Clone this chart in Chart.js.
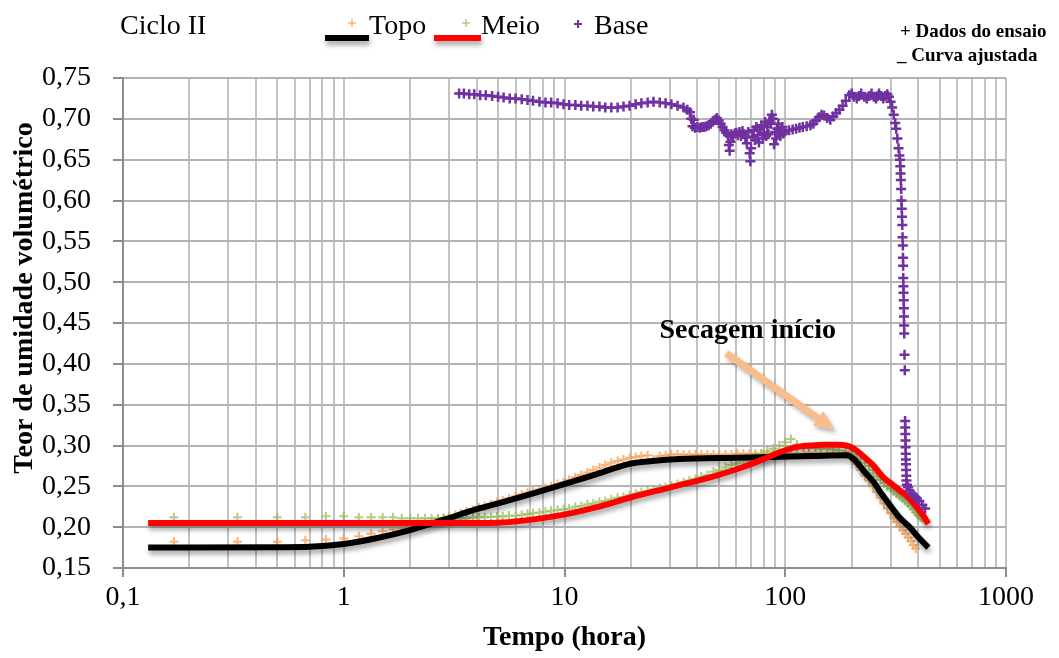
<!DOCTYPE html>
<html>
<head>
<meta charset="utf-8">
<script src="https://cdn.jsdelivr.net/npm/chart.js@4.4.1/dist/chart.umd.min.js"></script>
<style>
  html, body { margin: 0; padding: 0; background: #ffffff; }
  #wrap { width: 1059px; height: 658px; }
</style>
</head>
<body>
<div id="wrap"><canvas id="chart" width="1059" height="658"></canvas></div>
<script>
// ---- Ciclo II : volumetric moisture content vs. time ----

// Topo – measured points (time in hours, moisture content)
const topoTime = [0.17,0.33,0.5,0.67,0.83,1.0,1.17,1.33,1.5,1.67,1.83,2.0,2.17,2.33,2.5,2.67,2.83,
  3.0,3.2,3.4,3.6,3.85,4.1,4.35,4.65,4.95,5.25,5.6,6.0,6.4,6.8,7.2,7.7,8.2,8.7,9.3,9.9,10.5,11.2,11.9,12.7,
  13.5,14.4,15.3,16.3,17.4,18.5,19.7,21,22.3,23.8,25.3,27,28.7,30.5,32.5,34.6,36.8,39.2,41.7,44.4,47.3,50.3,
  53.6,57,60.7,64.6,68.8,73.2,78,83,88.3,94,100,106,113,121,128,137,145,155,165,175,187,199,
  210,220,230,240,250,260,270,280,290,300,310,320,330,340,350,360,370,380,390];
const topoTheta = [0.182,0.182,0.182,0.184,0.185,0.186,0.189,0.192,0.195,0.197,0.199,0.201,0.203,0.205,0.207,0.209,0.211,
  0.213,0.215,0.217,0.219,0.221,0.224,0.226,0.228,0.231,0.233,0.235,0.238,0.240,0.242,0.244,0.246,0.248,0.250,0.253,0.255,0.258,0.261,0.264,0.267,
  0.270,0.273,0.276,0.279,0.281,0.283,0.285,0.286,0.287,0.288,0.283,0.287,0.288,0.289,0.289,0.289,0.289,0.289,0.289,0.289,0.289,0.289,
  0.289,0.289,0.290,0.290,0.290,0.290,0.290,0.290,0.290,0.290,0.290,0.290,0.290,0.290,0.291,0.291,0.291,0.291,0.291,0.290,0.289,0.285,
  0.277,0.270,0.263,0.257,0.250,0.243,0.236,0.229,0.223,0.217,0.211,0.206,0.201,0.196,0.192,0.187,0.183,0.178,0.174];

// Meio – measured points
const meioTime = [0.17,0.33,0.5,0.67,0.83,1.0,1.17,1.33,1.5,1.67,1.83,2.0,2.17,2.33,2.5,2.67,2.83,
  3.0,3.2,3.4,3.6,3.85,4.1,4.35,4.65,4.95,5.25,5.6,6.0,6.4,6.8,7.2,7.7,8.2,8.7,9.3,9.9,10.5,11.2,11.9,12.7,
  13.5,14.4,15.3,16.3,17.4,18.5,19.7,21,22.3,23.8,25.3,27,28.7,30.5,32.5,34.6,36.8,39.2,41.7,44.4,47.3,50.3,
  53.6,57,60.7,64.6,68.8,73.2,78,83,88.3,94,100,106,113,121,128,137,145,155,165,175,187,199,
  210,220,230,240,250,260,270,280,290,300,310,320,330,340,350,360,370,380,390,400,410,420,430];
const meioTheta = [0.212,0.212,0.212,0.212,0.2135,0.2135,0.212,0.212,0.212,0.212,0.211,0.211,0.211,0.211,0.211,0.211,0.211,
  0.211,0.211,0.211,0.211,0.2115,0.212,0.212,0.2125,0.213,0.213,0.214,0.214,0.215,0.216,0.217,0.218,0.219,0.220,0.221,0.222,0.223,0.225,0.226,0.228,
  0.229,0.231,0.232,0.234,0.236,0.237,0.239,0.241,0.243,0.244,0.246,0.248,0.249,0.251,0.253,0.255,0.257,0.259,0.262,0.264,0.268,0.270,
  0.273,0.276,0.278,0.281,0.284,0.287,0.290,0.293,0.296,0.300,0.304,0.308,0.301,0.298,0.297,0.297,0.296,0.296,0.295,0.294,0.292,0.289,
  0.284,0.279,0.275,0.270,0.266,0.262,0.258,0.254,0.250,0.247,0.244,0.241,0.238,0.235,0.232,0.229,0.226,0.222,0.218,0.215,0.212,0.210,0.208];

// Base – measured points
const baseTime = [3.33,3.5,3.7,3.9,4.15,4.4,4.7,5.0,5.3,5.65,6.0,6.4,6.8,7.2,7.7,8.2,8.7,9.3,9.9,10.5,11.2,11.9,12.7,
  13.5,14.4,15.3,16.3,17.4,18.5,19.7,21,22.3,23.8,25.3,27,28.7,30.5,32.5,34.6,36,37,37.5,
  38,38.5,39,40,41,42,43,44,45,46,47,48,49,50,51,52,53,54,55,55.5,56,56.5,57,58,59,60,61,62,63,64,65,66,67,68,69,69.5,
  70,71,72,73,74,75,76,77,78,79,80,81,82,83,84,85,86,87,88,89,90,91,92,93,94,95,96,97,98,
  100,104,108,112,116,120,125,130,134,138,142,146,150,155,160,165,170,176,182,188,195,
  200,205,211,216,221,228,234,240,246,252,258,262,266,272,278,284,290,295,300,305,310,315,318,322,326,329,
  331,332,333,334,335,336,337,338,339,340,341,341.5,342,342.5,343,343.5,344,344.5,345,345.5,346,347,348,
  349,349.5,350,350.5,351,351.5,352,352.5,353,353.5,354,356,360,366,375,385,395,405,418,430];
const baseTheta = [0.731,0.731,0.730,0.730,0.729,0.729,0.728,0.727,0.726,0.725,0.725,0.724,0.723,0.722,0.721,0.720,0.720,0.719,0.718,0.717,0.717,0.716,0.716,
  0.715,0.715,0.714,0.714,0.714,0.715,0.716,0.718,0.719,0.720,0.721,0.720,0.719,0.718,0.716,0.714,0.711,0.708,0.700,
  0.691,0.699,0.689,0.690,0.689,0.690,0.690,0.691,0.692,0.694,0.697,0.699,0.701,0.698,0.694,0.690,0.686,0.683,0.680,0.668,0.661,0.672,0.681,0.679,0.682,0.683,0.680,0.684,0.679,0.685,0.681,0.677,0.670,0.684,0.658,0.648,
  0.664,0.678,0.686,0.674,0.690,0.680,0.671,0.687,0.692,0.676,0.683,0.696,0.679,0.690,0.681,0.698,0.694,0.705,0.700,0.669,0.684,0.676,0.688,0.694,0.682,0.679,0.686,0.690,0.682,
  0.685,0.686,0.687,0.688,0.689,0.690,0.691,0.692,0.694,0.698,0.702,0.705,0.704,0.701,0.699,0.703,0.707,0.711,0.716,0.722,0.729,
  0.731,0.727,0.725,0.728,0.731,0.727,0.725,0.728,0.731,0.727,0.725,0.728,0.731,0.728,0.725,0.728,0.730,0.727,0.721,0.714,0.705,0.695,0.688,0.676,0.664,0.655,
  0.650,0.642,0.633,0.625,0.614,0.600,0.590,0.580,0.570,0.555,0.545,0.530,0.520,0.505,0.495,0.487,0.478,0.468,0.458,0.447,0.437,0.411,0.392,
  0.330,0.322,0.314,0.306,0.298,0.290,0.283,0.277,0.270,0.263,0.257,0.252,0.249,0.245,0.241,0.238,0.235,0.232,0.227,0.223];

// Fitted curve – Topo
const topoFitTime  = [0.13,0.5,0.7,1.0,1.4,2.0,2.8,4.0,5.65,9.8,14,19.7,25,33,60,133,190,205,230,250,276,300,326,366,400,445];
const topoFitTheta = [0.175,0.1755,0.176,0.1795,0.1865,0.1965,0.2085,0.222,0.233,0.252,0.265,0.2775,0.281,0.2835,0.285,0.287,0.288,0.283,0.267,0.256,0.239,0.226,0.213,0.200,0.188,0.175];

// Fitted curve – Meio
const meioFitTime  = [0.13,1,3,5,6.5,9.8,14,19.7,30,47,65,79,95,112,130,150,175,195,210,225,250,276,300,330,360,393,420,445];
const meioFitTheta = [0.205,0.205,0.205,0.2055,0.208,0.215,0.2245,0.236,0.2485,0.262,0.274,0.283,0.292,0.298,0.300,0.301,0.301,0.299,0.294,0.287,0.276,0.262,0.254,0.245,0.237,0.225,0.215,0.204];

// Axis ticks
const xGridTicks  = [0.1,0.2,0.3,0.4,0.5,0.6,0.7,0.8,0.9,1,2,3,4,5,6,7,8,9,10,20,30,40,50,60,70,80,90,100,200,300,400,500,600,700,800,900,1000];
const xMajorTicks = [0.1,1,10,100,1000];
const xTickLabels = ['0,1','1','10','100','1000'];
const yTicks      = [0.15,0.20,0.25,0.30,0.35,0.40,0.45,0.50,0.55,0.60,0.65,0.70,0.75];
const yTickLabels = ['0,15','0,20','0,25','0,30','0,35','0,40','0,45','0,50','0,55','0,60','0,65','0,70','0,75'];

// "Secagem início" annotation: arrow from/to and label anchor, in (hora, teor)
const arrowFrom  = [54, 0.413];
const arrowTo    = [167, 0.319];
const noteAnchor = [67.6, 0.432];

const SERIF = "'Liberation Serif', 'Times New Roman', serif";
const C_TOPO = 'rgba(245,150,70,0.72)';
const C_MEIO = 'rgba(148,184,80,0.72)';
const C_BASE = '#7030a0';
const C_ARROW = '#f9bd8c';

const toPoints = (xs, ys) => xs.map((t, i) => ({ x: t, y: ys[i] }));
const isMajor = v => xMajorTicks.some(m => Math.abs(m - v) < 1e-9);
const majorLabel = v => xTickLabels[xMajorTicks.findIndex(m => Math.abs(m - v) < 1e-9)];

// drop shadow behind the fitted curves
const curveShadow = {
  id: 'curveShadow',
  beforeDatasetDraw(chart, args) {
    if (!chart.data.datasets[args.index].shadow) return;
    const c = chart.ctx;
    c.save();
    c.shadowColor = 'rgba(0,0,0,0.35)';
    c.shadowBlur = 5;
    c.shadowOffsetX = 1;
    c.shadowOffsetY = 4;
  },
  afterDatasetDraw(chart, args) {
    if (chart.data.datasets[args.index].shadow) chart.ctx.restore();
  }
};

function drawCross(ctx, cx, cy, r, color, w) {
  ctx.save();
  ctx.strokeStyle = color;
  ctx.lineWidth = w;
  ctx.beginPath();
  ctx.moveTo(cx - r, cy); ctx.lineTo(cx + r, cy);
  ctx.moveTo(cx, cy - r); ctx.lineTo(cx, cy + r);
  ctx.stroke();
  ctx.restore();
}

function drawShadowLine(ctx, x0, x1, yy, color) {
  ctx.save();
  ctx.shadowColor = 'rgba(0,0,0,0.35)';
  ctx.shadowBlur = 5;
  ctx.shadowOffsetX = 1;
  ctx.shadowOffsetY = 4;
  ctx.strokeStyle = color;
  ctx.lineWidth = 6;
  ctx.beginPath();
  ctx.moveTo(x0, yy); ctx.lineTo(x1, yy);
  ctx.stroke();
  ctx.restore();
}

// annotation arrow, axis title, header, legend and notes
const overlay = {
  id: 'overlay',
  afterDatasetsDraw(chart) {
    const { ctx, scales: { x, y } } = chart;
    const x0 = x.getPixelForValue(arrowFrom[0]), y0 = y.getPixelForValue(arrowFrom[1]);
    const x1 = x.getPixelForValue(arrowTo[0]),   y1 = y.getPixelForValue(arrowTo[1]);
    const ang = Math.atan2(y1 - y0, x1 - x0);
    const headLen = 20, headW = 9;
    const bx = x1 - headLen * Math.cos(ang), by = y1 - headLen * Math.sin(ang);
    ctx.save();
    ctx.shadowColor = 'rgba(0,0,0,0.3)';
    ctx.shadowBlur = 4;
    ctx.shadowOffsetX = 2;
    ctx.shadowOffsetY = 3;
    ctx.strokeStyle = C_ARROW;
    ctx.lineWidth = 7;
    ctx.beginPath();
    ctx.moveTo(x0, y0); ctx.lineTo(bx, by);
    ctx.stroke();
    ctx.fillStyle = C_ARROW;
    ctx.beginPath();
    ctx.moveTo(x1, y1);
    ctx.lineTo(bx + headW * Math.sin(ang), by - headW * Math.cos(ang));
    ctx.lineTo(bx - headW * Math.sin(ang), by + headW * Math.cos(ang));
    ctx.closePath();
    ctx.fill();
    ctx.restore();

    ctx.save();
    ctx.fillStyle = '#000';
    ctx.font = 'bold 28px ' + SERIF;
    ctx.textAlign = 'center';
    ctx.textBaseline = 'alphabetic';
    ctx.fillText('Secagem início', x.getPixelForValue(noteAnchor[0]), y.getPixelForValue(noteAnchor[1]));
    ctx.restore();
  },
  afterDraw(chart) {
    const ctx = chart.ctx;
    ctx.save();
    ctx.fillStyle = '#000';

    // vertical axis title
    ctx.save();
    ctx.translate(25, 298);
    ctx.rotate(-Math.PI / 2);
    ctx.font = 'bold 28px ' + SERIF;
    ctx.textAlign = 'center';
    ctx.textBaseline = 'middle';
    ctx.fillText('Teor de umidade volumétrico', 0, 0);
    ctx.restore();

    ctx.textBaseline = 'alphabetic';
    ctx.textAlign = 'left';
    ctx.font = '28px ' + SERIF;
    ctx.fillText('Ciclo II', 120, 34);

    // legend
    drawShadowLine(ctx, 325, 369, 38, '#000000');
    drawCross(ctx, 352, 23, 4, C_TOPO, 1.5);
    ctx.fillText('Topo', 369, 34);
    drawShadowLine(ctx, 434, 481, 38, '#ff0000');
    drawCross(ctx, 466, 23, 4, C_MEIO, 1.5);
    ctx.fillText('Meio', 481, 34);
    drawCross(ctx, 578, 24, 4, C_BASE, 2);
    ctx.fillText('Base', 594, 34);

    // notes
    ctx.font = 'bold 19px ' + SERIF;
    ctx.fillText('+ Dados do ensaio', 900, 37);
    ctx.fillText('_ Curva ajustada', 897, 61);
    ctx.restore();
  }
};

new Chart(document.getElementById('chart'), {
  type: 'scatter',
  data: {
    datasets: [
      { label: 'Topo', data: toPoints(topoTime, topoTheta), pointStyle: 'cross', pointRadius: 4.5,
        borderColor: C_TOPO, backgroundColor: C_TOPO, borderWidth: 2, order: 4 },
      { label: 'Meio', data: toPoints(meioTime, meioTheta), pointStyle: 'cross', pointRadius: 4.5,
        borderColor: C_MEIO, backgroundColor: C_MEIO, borderWidth: 2, order: 3 },
      { label: 'Topo ajustada', data: toPoints(topoFitTime, topoFitTheta), showLine: true, shadow: true,
        pointRadius: 0, borderColor: '#000000', borderWidth: 6, cubicInterpolationMode: 'monotone', order: 2 },
      { label: 'Meio ajustada', data: toPoints(meioFitTime, meioFitTheta), showLine: true, shadow: true,
        pointRadius: 0, borderColor: '#ff0000', borderWidth: 6, cubicInterpolationMode: 'monotone', order: 1 },
      { label: 'Base', data: toPoints(baseTime, baseTheta), pointStyle: 'cross', pointRadius: 5,
        borderColor: C_BASE, backgroundColor: C_BASE, borderWidth: 2.5, order: 0 }
    ]
  },
  options: {
    responsive: false,
    animation: false,
    events: [],
    devicePixelRatio: 1,
    layout: { padding: { top: 78, right: 53, left: 0, bottom: 0 } },
    plugins: { legend: { display: false }, tooltip: { enabled: false }, title: { display: false } },
    scales: {
      x: {
        type: 'logarithmic',
        position: 'bottom',
        min: 0.1,
        max: 1000,
        afterFit(s) { s.height = 90; },
        afterBuildTicks(s) { s.ticks = xGridTicks.map(v => ({ value: v, major: isMajor(v) })); },
        ticks: {
          autoSkip: false, maxRotation: 0, minRotation: 0, padding: 4, color: '#000',
          font: { family: SERIF, size: 28 },
          callback: v => (isMajor(v) ? majorLabel(v) : '')
        },
        grid: {
          color: '#c2c2c2', lineWidth: 2, tickLength: 9,
          tickColor: c => (c.tick && isMajor(c.tick.value) ? '#8c8c8c' : 'rgba(0,0,0,0)')
        },
        border: { color: '#8c8c8c', width: 2 },
        title: {
          display: true, text: 'Tempo (hora)', color: '#000',
          font: { family: SERIF, size: 28, weight: 'bold' }, padding: { top: 0, bottom: 3 }
        }
      },
      y: {
        min: 0.15,
        max: 0.75,
        afterFit(s) { s.width = 123; },
        afterBuildTicks(s) { s.ticks = yTicks.map(v => ({ value: v })); },
        ticks: {
          padding: 22, color: '#000', font: { family: SERIF, size: 28 },
          callback: v => yTickLabels[yTicks.findIndex(t => Math.abs(t - v) < 1e-9)]
        },
        grid: { color: '#b4b4b4', lineWidth: 2, tickLength: 10, tickColor: '#8c8c8c' },
        border: { color: '#8c8c8c', width: 2 },
        title: { display: false }
      }
    }
  },
  plugins: [curveShadow, overlay]
});
</script>
</body>
</html>
